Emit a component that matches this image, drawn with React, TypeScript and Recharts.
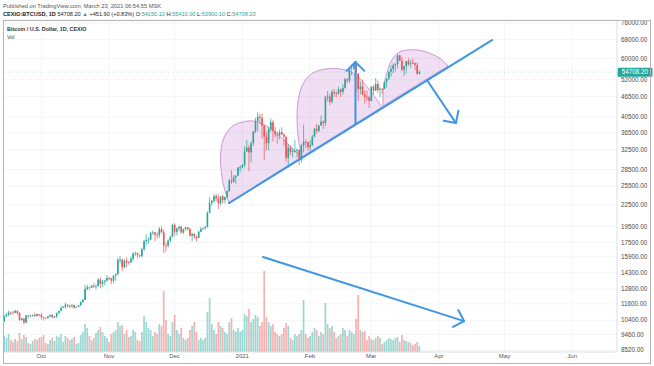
import React from 'react';
import { ComposedChart, Bar, XAxis, YAxis, CartesianGrid, ReferenceLine, ReferenceArea } from 'recharts';

const START = Date.UTC(2020, 8, 14);
const DAY_COUNT = 281;

const opens = [
  10330,10680,10790,10950,10940,10930,11080,10920,10420,10530,10240,10740,10690,10730,10770,10700,10840,
  10780,10620,10570,10550,10670,10790,10600,10670,10920,11060,11300,11380,11540,11430,11430,11500,11320,11370,11510,11750,11920,12820,12970,12930,13110,13030,13070,13650,13280,13460,13560,
  13800,13760,13550,14020,14150,15590,15590,14830,15480,15330,15300,15700,16280,16330,16070,15960,16730,17660,17800,17820,18680,18720,18430,18370,19150,18730,17150,17140,17720,18180,
  19700,18790,19220,19450,18700,19160,19380,19180,18320,18550,18250,18040,18800,19170,19270,19430,21350,22800,23130,23860,23480,22750,23820,23240,23730,24690,26490,26280,27080,27380,28880,
  28950,29380,32180,33000,31970,33990,36820,39430,40580,40240,38240,35540,34010,37390,39150,36830,36070,35820,36640,36020,35500,30850,32950,32080,32270,32290,32510,30430,33470,34320,34290,
  33110,33540,35510,37470,36930,38290,39260,38900,46200,46480,44840,47900,47500,47280,48720,47940,49200,52150,51680,55890,56100,57540,54200,48820,49700,47090,46340,46190,
  45140,49630,48380,50540,48560,48930,48910,51210,52380,54880,55860,57330,57800,61180,59000,55600,56900,58900,57650,58100,58050,57350,54150,
];
const highs = [
  10800,10940,11100,11040,11060,11170,11080,10990,10580,10550,10780,10760,10790,10810,10950,10860,10850,
  10920,10660,10600,10700,10800,10800,10690,10960,11100,11480,11440,11720,11560,11540,11600,11540,11400,11520,11800,12000,13200,13190,13020,13160,13330,13230,13780,13850,13620,13650,14070,
  13900,13820,14060,14250,15770,15970,15700,15650,15830,15470,15950,16340,16480,16330,16130,16880,17850,18480,18140,18800,18960,18770,18770,19420,19490,19080,17460,17870,18330,19850,
  19920,19330,19580,19520,19180,19420,19400,19290,18640,18560,18280,18950,19410,19330,19560,21540,23700,23300,24150,24260,24100,23830,24130,23780,24770,26800,28380,27500,27400,28990,29300,
  29620,33300,34780,33600,34430,36940,40300,41950,41380,41400,38260,36600,37850,40100,39700,37950,36800,37300,37850,36400,35600,33800,33500,32950,34800,32900,32600,33800,38500,34900,34350,
  34700,35950,37700,38700,38300,40900,39700,46700,48200,47300,48600,48900,48100,49700,49000,50500,52600,52500,56200,57500,58300,57550,54200,51300,52000,48350,48300,46600,
  49750,50100,52600,51800,49400,49200,51400,52400,54900,57300,58100,58000,61700,61500,60500,56900,58900,60100,59400,59800,58400,58400,55410,
];
const lows = [
  10270,10620,10680,10750,10820,10900,10760,10360,10360,10150,10200,10530,10650,10640,10640,10650,10670,
  10450,10380,10500,10530,10640,10540,10560,10550,10830,11060,11280,11230,11320,11300,11280,11230,11300,11350,11420,11680,11900,12700,12750,12900,12900,12800,13050,12900,12990,13140,13430,
  13610,13230,13300,13540,14100,15200,14450,14750,14850,15090,15280,15450,15970,15780,15860,15880,16540,17220,17350,17760,18410,17650,18000,18050,18600,16300,16450,16880,17520,18180,
  18320,18350,18920,18590,18520,18920,18910,18200,17650,17930,17600,18020,18770,19000,19080,19300,21250,22400,22800,23100,21900,22400,22700,22730,23450,24500,25900,26100,25900,27320,28000,
  28700,28950,32050,28200,29900,33400,36350,36800,38720,35100,30400,32500,32400,36700,34400,35400,33900,34900,35850,33400,30100,28900,31400,30900,31900,30900,29300,29900,31950,32900,32300,
  32300,33400,35400,36200,36600,38200,37400,38100,45000,43800,44300,46300,46300,47100,46300,47100,48950,50900,50900,53600,55600,47600,45000,47100,46800,44300,45100,43100,
  45000,47100,48200,47600,46300,47100,48900,49300,51900,53100,54300,55000,56200,59000,55000,53300,54200,57000,56300,57900,55500,53700,53900,
];
const closes = [
  10680,10790,10950,10940,10930,11080,10920,10420,10530,10240,10740,10690,10730,10770,10700,10840,10780,
  10620,10570,10550,10670,10790,10600,10670,10920,11060,11300,11380,11540,11430,11430,11500,11320,11370,11510,11750,11920,12820,12970,12930,13110,13030,13070,13650,13280,13460,13560,13800,
  13760,13550,14020,14150,15590,15590,14830,15480,15330,15300,15700,16280,16330,16070,15960,16730,17660,17800,17820,18680,18720,18430,18370,19150,18730,17150,17140,17720,18180,19700,
  18790,19220,19450,18700,19160,19380,19180,18320,18550,18250,18040,18800,19170,19270,19430,21350,22800,23130,23860,23480,22750,23820,23240,23730,24690,26490,26280,27080,27380,28880,28950,
  29380,32180,33000,31970,33990,36820,39430,40580,40240,38240,35540,34010,37390,39150,36830,36070,35820,36640,36020,35500,30850,32950,32080,32270,32290,32510,30430,33470,34320,34290,33110,
  33540,35510,37470,36930,38290,39260,38900,46200,46480,44840,47900,47500,47280,48720,47940,49200,52150,51680,55890,56100,57540,54200,48820,49700,47090,46340,46190,45140,
  49630,48380,50540,48560,48930,48910,51210,52380,54880,55860,57330,57800,61180,59000,55600,56900,58900,57650,58100,58050,57350,54150,54708.2,
];
const volumes = [
  800,700,900,600,500,650,550,950,650,850,750,450,400,550,650,600,700,
  750,850,450,400,600,700,550,800,750,900,500,800,700,600,650,750,400,450,850,1000,1400,1200,800,600,700,950,1100,1250,1000,800,700,
  500,900,1000,1100,1500,1300,1350,900,1100,750,800,1100,1000,600,550,1000,1800,1500,1200,1100,800,1000,900,1400,1300,3050,1600,900,800,1500,
  1850,1100,900,1200,700,600,700,1100,1300,1500,1000,600,700,600,700,2000,2700,1400,1100,900,1500,1300,1200,1000,900,1500,1700,1100,1000,1200,1000,
  1100,1900,1800,2150,1500,1650,1850,1750,1300,1500,4050,1750,1500,1300,1400,1000,900,800,900,1200,1450,1300,700,600,900,800,900,1100,2600,900,700,
  800,1000,1200,1100,800,1000,900,2450,1400,1200,1300,1000,700,800,900,1200,1100,800,1100,1000,900,1650,2850,1100,1000,1050,600,800,
  650,600,700,800,700,400,500,600,700,650,600,700,750,500,850,600,550,500,450,350,400,500,300,
];

const monthTicks = ['2020-10-01', '2020-11-01', '2020-12-01', '2021-01-01', '2021-02-01', '2021-03-01', '2021-04-01', '2021-05-01', '2021-06-01'];
const monthLabels = ['Oct', 'Nov', 'Dec', '2021', 'Feb', 'Mar', 'Apr', 'May', 'Jun'];
const priceTicks = [8520, 9460, 10400, 11600, 12800, 14300, 15900, 17500, 19500, 22500, 25500, 28500, 32500, 36500, 40500, 46500, 52000, 60000, 68000, 76000];
const priceDomain = [8410, 77540];
const volDomain = [0, 16600];
const lastPrice = 54708.2;

// drawings (day index, price)
const trendLine = [{ i: 102.9, p: 22780 }, { i: 223.3, p: 67790 }];
const arrows = [
  [{ i: 160.8, p: 38650 }, { i: 160.8, p: 58540 }],
  [{ i: 193.5, p: 51910 }, { i: 206.8, p: 38900 }],
  [{ i: 118.5, p: 15880 }, { i: 210.5, p: 10340 }],
];
const bulges = [
  {
    box: { i1: 98.8, i2: 136.3, pTop: 39460, pBottom: 22780 },
    pts: [[0.110, 1.0], [0.037, 0.756], [0.006, 0.476], [0.037, 0.232], [0.140, 0.073], [0.280, 0.012], [0.402, 0], [0.512, 0.030], [0.671, 0.134], [0.854, 0.305], [1.0, 0.439]],
  },
  {
    box: { i1: 134.05, i2: 172.96, pTop: 56040, pBottom: 31000 },
    pts: [[0.059, 1.0], [0.018, 0.808], [0, 0.559], [0.018, 0.333], [0.071, 0.175], [0.153, 0.073], [0.271, 0.017], [0.424, 0], [0.576, 0.017], [0.694, 0.073], [0.788, 0.164], [0.882, 0.277], [1.0, 0.435]],
  },
  {
    box: { i1: 173.4, i2: 203.2, pTop: 63400, pBottom: 43620 },
    pts: [[0, 1], [0.005, 0.714], [0.057, 0.416], [0.134, 0.179], [0.235, 0.048], [0.365, 0], [0.543, 0], [0.723, 0.059], [0.877, 0.148], [1, 0.286]],
  },
];

const UP = '#26a69a';
const DOWN = '#ef5350';
const BLUE = '#3f95e6';
const FONT = "'Liberation Sans', Arial, sans-serif";

const rows = Array.from({ length: DAY_COUNT }, (_, k) => {
  const date = new Date(START + k * 86400000).toISOString().slice(0, 10);
  const has = k < closes.length;
  return {
    i: k,
    date,
    hl: has ? [lows[k], highs[k]] : null,
    o: has ? opens[k] : null,
    h: has ? highs[k] : null,
    l: has ? lows[k] : null,
    c: has ? closes[k] : null,
    vol: has ? volumes[k] : null,
  };
});

const Candle = (props: any) => {
  const { x, y, width, height, payload } = props;
  if (!payload || payload.h == null) return null;
  const top = Math.min(y, y + height);
  const hgt = Math.abs(height);
  const cx = x + width / 2;
  const lh = Math.log(payload.h);
  const ll = Math.log(payload.l);
  const toY = (v: number) => (lh === ll ? top : top + (hgt * (lh - Math.log(v))) / (lh - ll));
  const up = payload.c >= payload.o;
  const color = up ? UP : DOWN;
  const yo = toY(payload.o);
  const yc = toY(payload.c);
  const bt = Math.min(yo, yc);
  const bh = Math.max(Math.abs(yo - yc), 0.8);
  return (
    <g>
      <line x1={cx} x2={cx} y1={top} y2={top + hgt} stroke={color} strokeWidth={0.7} />
      <rect x={cx - 0.8} y={bt} width={1.6} height={bh} fill={color} />
    </g>
  );
};

const VolBar = (props: any) => {
  const { x, y, width, height, payload } = props;
  if (!payload || payload.vol == null) return null;
  const cx = x + width / 2;
  const up = payload.c >= payload.o;
  return <rect x={cx - 0.85} y={Math.min(y, y + height)} width={1.7} height={Math.abs(height)} fill={up ? 'rgba(38,166,154,0.45)' : 'rgba(239,83,80,0.45)'} />;
};

const lineShape = (head: boolean) => (props: any) => {
  const { x1, y1, x2, y2 } = props;
  const parts = [<line key="m" x1={x1} y1={y1} x2={x2} y2={y2} stroke={BLUE} strokeWidth={2} strokeLinecap="round" />];
  if (head) {
    const ang = Math.atan2(y2 - y1, x2 - x1);
    const L = 12.5;
    [-1, 1].forEach((s) => {
      const a = ang + Math.PI + (s * Math.PI) / 4;
      parts.push(
        <line key={'h' + s} x1={x2} y1={y2} x2={x2 + L * Math.cos(a)} y2={y2 + L * Math.sin(a)} stroke={BLUE} strokeWidth={2} strokeLinecap="round" />
      );
    });
  }
  return <g>{parts}</g>;
};

const bulgeShape = (pts: number[][]) => (props: any) => {
  const { x, y, width, height } = props;
  const P = pts.map(([u, v]) => [x + u * width, y + v * height]);
  let d = `M${P[0][0]} ${P[0][1]}`;
  for (let k = 0; k < P.length - 1; k++) {
    const p0 = P[k - 1] || P[k];
    const p1 = P[k];
    const p2 = P[k + 1];
    const p3 = P[k + 2] || P[k + 1];
    const c1 = [p1[0] + (p2[0] - p0[0]) / 6, p1[1] + (p2[1] - p0[1]) / 6];
    const c2 = [p2[0] - (p3[0] - p1[0]) / 6, p2[1] - (p3[1] - p1[1]) / 6];
    d += ` C${c1[0]} ${c1[1]} ${c2[0]} ${c2[1]} ${p2[0]} ${p2[1]}`;
  }
  d += ' Z';
  return <path d={d} fill="rgba(186,104,200,0.22)" stroke="rgba(175,95,195,0.75)" strokeWidth={0.8} />;
};

const Badge = (props: any) => {
  const vb = props.viewBox || {};
  const bx = vb.x + vb.width + 0.5;
  const by = vb.y;
  return (
    <g>
      <rect x={bx} y={by - 4.5} width={35} height={9} fill={UP} rx={1} />
      <text x={bx + 17.5} y={by + 2.2} textAnchor="middle" fontSize={6.3} fill="#fff" fontFamily={FONT}>
        {lastPrice.toFixed(2)}
      </text>
    </g>
  );
};

export default function App() {
  return (
    <div style={{ position: 'absolute', left: 0, top: 0, width: 654, height: 366, background: '#fff', fontFamily: FONT }}>
      <ComposedChart width={654} height={366} data={rows} margin={{ top: 20, right: 3, bottom: 2, left: 3 }}>
        <CartesianGrid xAxisId="c" yAxisId="p" stroke="#f0f2f6" strokeWidth={0.8} />
        <XAxis
          xAxisId="c"
          dataKey="date"
          ticks={monthTicks}
          interval={0}
          tickFormatter={(v: string) => monthLabels[monthTicks.indexOf(v)] ?? ''}
          height={12}
          tickLine={false}
          tickSize={0}
          axisLine={{ stroke: '#e0e3eb' }}
          tick={{ fontSize: 6, fill: '#555', fontFamily: FONT }}
          tickMargin={2}
        />
        <XAxis xAxisId="v" dataKey="date" hide />
        <XAxis xAxisId="n" dataKey="i" type="number" domain={[-0.5, 280.5]} allowDataOverflow hide />
        <YAxis
          yAxisId="p"
          orientation="right"
          scale="log"
          domain={priceDomain}
          allowDataOverflow
          ticks={priceTicks}
          interval={0}
          tickFormatter={(v: number) => v.toFixed(2)}
          width={34}
          tickLine={false}
          tickSize={0}
          tickMargin={4}
          axisLine={{ stroke: '#e0e3eb' }}
          tick={{ fontSize: 6.3, fill: '#4a4a4a', fontFamily: FONT }}
        />
        <YAxis yAxisId="vol" domain={volDomain} hide />
        <Bar xAxisId="v" yAxisId="vol" dataKey="vol" shape={VolBar} isAnimationActive={false} />
        <Bar xAxisId="c" yAxisId="p" dataKey="hl" shape={Candle} isAnimationActive={false} />
        <ReferenceLine
          xAxisId="n"
          yAxisId="p"
          y={lastPrice}
          stroke={UP}
          strokeWidth={0.7}
          strokeDasharray="1 3"
          strokeOpacity={0.45}
          label={(p: any) => <Badge {...p} />}
        />
        {bulges.map((b, k) => (
          <ReferenceArea
            key={'b' + k}
            xAxisId="n"
            yAxisId="p"
            x1={b.box.i1}
            x2={b.box.i2}
            y1={b.box.pTop}
            y2={b.box.pBottom}
            shape={bulgeShape(b.pts)}
          />
        ))}
        <ReferenceLine
          xAxisId="n"
          yAxisId="p"
          segment={[{ x: trendLine[0].i, y: trendLine[0].p }, { x: trendLine[1].i, y: trendLine[1].p }]}
          shape={lineShape(false)}
        />
        {arrows.map((a, k) => (
          <ReferenceLine
            key={'a' + k}
            xAxisId="n"
            yAxisId="p"
            segment={[{ x: a[0].i, y: a[0].p }, { x: a[1].i, y: a[1].p }]}
            shape={lineShape(true)}
          />
        ))}
      </ComposedChart>
      <svg width={654} height={366} style={{ position: 'absolute', left: 0, top: 0, pointerEvents: 'none' }}>
        <rect x={3.5} y={20.5} width={647} height={343} fill="none" stroke="#b5b5b5" strokeWidth={1} />
        <text x={3} y={8} fontSize={5.7} fill="#555" fontFamily={FONT}>
          Published on TradingView.com, March 23, 2021 06:54:55 MSK
        </text>
        <text x={3} y={16.2} fontSize={5.6} fill="#222" fontFamily={FONT}>
          <tspan fontWeight="bold">CEXIO:BTCUSD, 1D</tspan>
          <tspan> 54708.20 </tspan>
          <tspan fill={UP}>▲</tspan>
          <tspan> +451.90 (+0.83%) O:</tspan>
          <tspan fill={UP}>54150.10</tspan>
          <tspan> H:</tspan>
          <tspan fill={UP}>55410.00</tspan>
          <tspan> L:</tspan>
          <tspan fill={UP}>53900.10</tspan>
          <tspan> C:</tspan>
          <tspan fill={UP}>54708.20</tspan>
        </text>
        <text x={7} y={31} fontSize={5.4} fontWeight="bold" fill="#333" fontFamily={FONT}>
          Bitcoin / U.S. Dollar, 1D, CEXIO
        </text>
        <text x={7} y={39} fontSize={5.4} fill="#444" fontFamily={FONT}>
          Vol
        </text>
      </svg>
    </div>
  );
}
